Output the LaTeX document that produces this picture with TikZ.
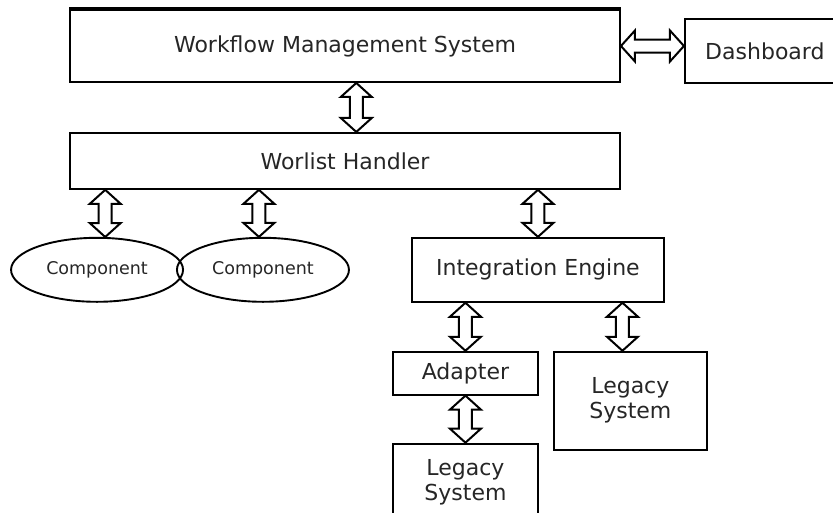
\documentclass[tikz,border=0pt]{standalone}
\usepackage{fontspec}
\setmainfont{DejaVu Sans}
\usetikzlibrary{positioning,shapes.geometric,calc}
\tikzset{
  box/.style={
    rectangle,
    draw=black,
    line width=1.9pt,
    fill=white,
    text=black!85,
    align=center,
    inner sep=0pt,
    font=\fontsize{22}{25}\selectfont
  },
  widebox/.style={
    box,
    minimum width=550pt
  },
  comp/.style={
    ellipse,
    draw=black,
    line width=1.9pt,
    text=black!85,
    inner sep=0pt,
    minimum width=172pt,
    minimum height=64pt,
    font=\fontsize{17.5}{20}\selectfont
  },
  link/.style={
    draw=black,
    fill=white,
    line width=2pt,
    line join=miter,
    to path={
      -- ($(\tikztostart)!14pt!(\tikztotarget)!15.5pt!90:(\tikztotarget)$)
      -- ($(\tikztostart)!14pt!(\tikztotarget)!6.5pt!90:(\tikztotarget)$)
      -- ($(\tikztotarget)!14pt!(\tikztostart)!6.5pt!-90:(\tikztostart)$)
      -- ($(\tikztotarget)!14pt!(\tikztostart)!15.5pt!-90:(\tikztostart)$)
      -- (\tikztotarget)
      -- ($(\tikztotarget)!14pt!(\tikztostart)!15.5pt!90:(\tikztostart)$)
      -- ($(\tikztotarget)!14pt!(\tikztostart)!6.5pt!90:(\tikztostart)$)
      -- ($(\tikztostart)!14pt!(\tikztotarget)!6.5pt!-90:(\tikztotarget)$)
      -- ($(\tikztostart)!14pt!(\tikztotarget)!15.5pt!-90:(\tikztotarget)$)
      -- cycle
    }
  }
}

\begin{document}
\begin{tikzpicture}[x=1pt, y=-1pt]
  \useasboundingbox (0,0) rectangle (833,512);
  \clip (0,0) rectangle (833,512);

  \node[widebox, minimum height=72pt] (wms) at (345,46) {Workflow Management System};
  \draw[line width=4pt] (wms.north west) -- (wms.north east);
  \node[box, minimum height=64pt, right=63pt of wms, yshift=-5pt, anchor=west, text width=160pt, align=center] (dash) {Dashboard};
  \node[widebox, minimum height=56pt, below=49pt of wms] (worlist) {Worlist Handler};

  \node[comp, below=47pt of worlist.south west, xshift=28pt] (comp1) {Component};
  \node[comp, right=-8pt of comp1] (comp2) {Component};

  \node[box, minimum width=252pt, minimum height=64pt, below=47pt of worlist.south east, xshift=-83pt] (engine) {Integration Engine};
  \node[box, minimum width=145pt, minimum height=43pt, below=48pt of engine.south west, anchor=north west, xshift=-19pt] (adapter) {Adapter};
  \node[box, minimum width=153pt, minimum height=98pt, right=14pt of adapter.north east, anchor=north west] (legacyb) {Legacy\\System};
  \node[box, minimum width=145pt, minimum height=77pt, below=47pt of adapter] (legacya) {Legacy\\System};

  \draw[link] (wms.east) to (wms.east -| dash.west);
  \draw[link] (wms.-73) to (wms.-73 |- worlist.north);
  \draw[link] (comp1.76) to (comp1.76 |- worlist.south);
  \draw[link] (comp2.97) to (comp2.97 |- worlist.south);
  \draw[link] (engine.north) to (engine.north |- worlist.south);
  \draw[link] (adapter.north) to (adapter.north |- engine.south);
  \draw[link] (legacyb.99) to (legacyb.99 |- engine.south);
  \draw[link] (adapter.south) to (legacya.north);
\end{tikzpicture}
\end{document}
